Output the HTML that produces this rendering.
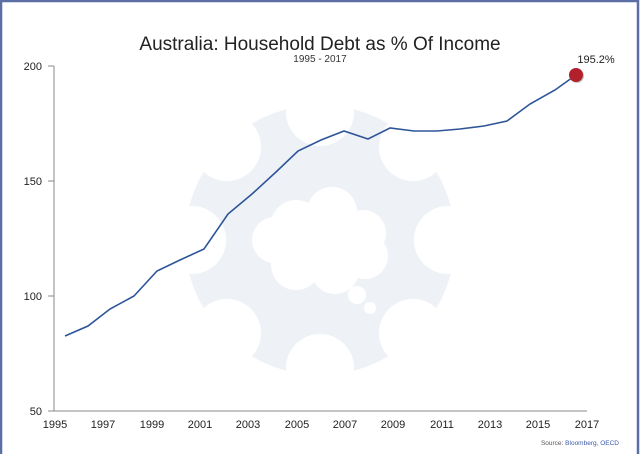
<!DOCTYPE html>
<html><head><style>
html,body{margin:0;padding:0;background:#fff}
svg{display:block}
text{font-family:"Liberation Sans",sans-serif}
</style></head><body>
<svg width="640" height="454" viewBox="0 0 640 454" xmlns="http://www.w3.org/2000/svg">
<rect x="0" y="0" width="640" height="454" fill="#fff"/>
<rect x="1" y="1" width="637" height="460" fill="none" stroke="#5b6ea6" stroke-width="2.5"/>
<defs><mask id="g"><rect width="640" height="454" fill="#fff"/>
<g fill="#000">
<circle cx="320" cy="112" r="34"/><circle cx="320" cy="368" r="34"/>
<circle cx="192" cy="240" r="34"/><circle cx="448" cy="240" r="34"/>
<circle cx="227" cy="147" r="34"/><circle cx="413" cy="147" r="34"/>
<circle cx="227" cy="333" r="34"/><circle cx="413" cy="333" r="34"/>
</g></mask></defs>
<circle cx="320" cy="240" r="135" fill="#eef2f7" mask="url(#g)"/>
<g fill="#fff">
<circle cx="296" cy="225" r="25"/><circle cx="332" cy="212" r="25"/><circle cx="363" cy="233" r="23"/>
<circle cx="365" cy="256" r="23"/><circle cx="335" cy="270" r="24"/><circle cx="296" cy="265" r="25"/>
<circle cx="275" cy="240" r="23"/><circle cx="320" cy="243" r="32"/>
<circle cx="357" cy="295" r="9"/><circle cx="370" cy="308" r="6"/>
</g>
<text x="320" y="50" font-size="19" text-anchor="middle" fill="#222">Australia: Household Debt as % Of Income</text>
<text x="320" y="62" font-size="10" text-anchor="middle" fill="#333">1995 - 2017</text>
<g stroke="#888" stroke-width="1" fill="none">
<path d="M54 66V411H587"/>
<path d="M48 66H54M48 181H54M48 296H54M48 411H54"/>
</g>
<g font-size="11" fill="#222" text-anchor="end">
<text x="42" y="70">200</text><text x="42" y="185">150</text><text x="42" y="300">100</text><text x="42" y="415">50</text>
</g>
<g font-size="11" fill="#222" text-anchor="middle">
<text x="55" y="428">1995</text><text x="103" y="428">1997</text><text x="152" y="428">1999</text>
<text x="200" y="428">2001</text><text x="248" y="428">2003</text><text x="297" y="428">2005</text>
<text x="345" y="428">2007</text><text x="393" y="428">2009</text><text x="442" y="428">2011</text>
<text x="490" y="428">2013</text><text x="538" y="428">2015</text><text x="587" y="428">2017</text>
</g>
<polyline fill="none" stroke="#2d5597" stroke-width="1.6" points="65,336 88,326 110,309 134,296 157,271 180,260 204,249 228,214 252,194 276,172 298,151 321,140 344,131 368,139 390,128 414,131 437,131 460,129 484,126 507,121 530,104 555,90 576,75"/>
<circle cx="577" cy="76" r="7" fill="#555" opacity="0.35"/>
<circle cx="576" cy="75" r="7" fill="#b2202c"/>
<text x="596" y="63" font-size="11" text-anchor="middle" fill="#222">195.2%</text>
<text x="619" y="445" font-size="6.5" text-anchor="end" fill="#555">Source: <tspan fill="#3a5aa8">Bloomberg, OECD</tspan></text>
</svg>
</body></html>
